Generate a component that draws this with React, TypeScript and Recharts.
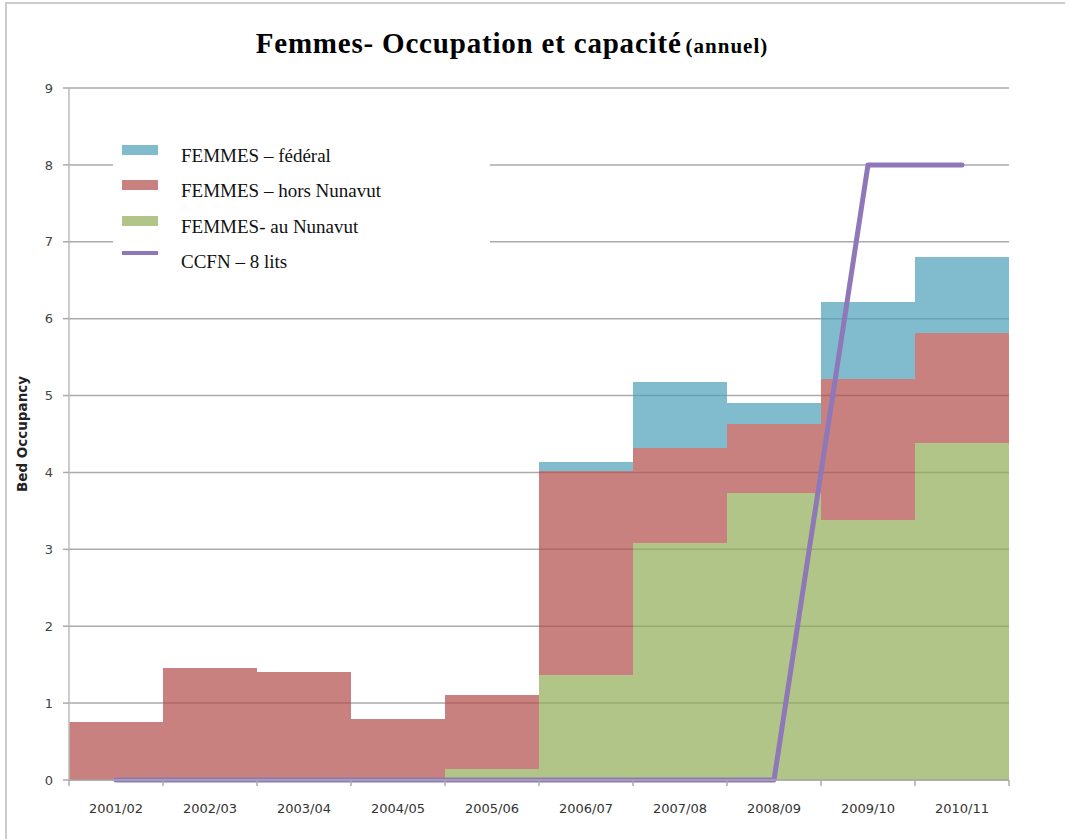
import {
  ComposedChart,
  Bar,
  Line,
  XAxis,
  YAxis,
  CartesianGrid,
  Legend,
} from "recharts";

const years = [
  "2001/02", "2002/03", "2003/04", "2004/05", "2005/06",
  "2006/07", "2007/08", "2008/09", "2009/10", "2010/11",
];
const auNunavut = [0, 0, 0, 0, 0.14, 1.37, 3.08, 3.73, 3.38, 4.38];
const horsNunavut = [0.75, 1.46, 1.4, 0.79, 0.97, 2.65, 1.24, 0.9, 1.83, 1.43];
const federal = [0, 0, 0, 0, 0, 0.12, 0.85, 0.27, 1.01, 0.99];
const ccfn = [0, 0, 0, 0, 0, 0, 0, 0, 8, 8];
const yTicks = [0, 1, 2, 3, 4, 5, 6, 7, 8, 9];

const W = 1070;
const H = 839;
const margin = { top: 88, right: 61, left: 1, bottom: 19 };
const Y_AXIS_W = 68;
const BAND = (W - margin.left - margin.right - Y_AXIS_W) / years.length;
const TICK_MARGIN = 18;

const BLUE = "#4A9FB8";
const RED = "#B24C4A";
const GREEN = "#92AC56";
const PURPLE = "#8E78B8";
const OPACITY = 0.7;

const data = years.map((y, i) => ({
  name: y,
  nunavut: auNunavut[i],
  hors: horsNunavut[i],
  federal: federal[i],
  ccfn: ccfn[i],
}));

const legendItems = [
  { label: "FEMMES – fédéral", color: BLUE, kind: "box" },
  { label: "FEMMES – hors Nunavut", color: RED, kind: "box" },
  { label: "FEMMES- au Nunavut", color: GREEN, kind: "box" },
  { label: "CCFN – 8 lits", color: PURPLE, kind: "line" },
];

const XTick = (props: any) => {
  const { x, y, payload, index } = props;
  const axisY = y - TICK_MARGIN - 6;
  return (
    <g>
      <line x1={x - BAND / 2} x2={x - BAND / 2} y1={axisY} y2={axisY + 6} stroke="#aaa" strokeWidth={1.5} />
      {index === years.length - 1 && (
        <line x1={x + BAND / 2} x2={x + BAND / 2} y1={axisY} y2={axisY + 6} stroke="#aaa" strokeWidth={1.5} />
      )}
      <text x={x} y={y} dy="0.71em" textAnchor="middle" fill="#333" fontSize={13} fontFamily="DejaVu Sans">
        {payload.value}
      </text>
    </g>
  );
};

const LegendBox = () => (
  <div>
    {legendItems.map((it) => (
      <div key={it.label} style={{ display: "flex", alignItems: "center", height: 35.5 }}>
        <div
          style={{
            marginLeft: 9,
            width: 36,
            height: it.kind === "box" ? 10 : 4,
            background: it.color,
            opacity: it.kind === "box" ? OPACITY : 1,
            position: "relative",
            top: it.kind === "box" ? -6 : -9,
          }}
        />
        <span style={{ marginLeft: 23, fontFamily: "Liberation Serif", fontSize: 19, color: "#111" }}>
          {it.label}
        </span>
      </div>
    ))}
  </div>
);

export default function App() {
  return (
    <div style={{ position: "absolute", left: 0, top: 0, width: W, height: H, background: "#fff" }}>
      <div
        style={{
          position: "absolute",
          left: 5,
          top: 2,
          width: 1058,
          height: H,
          borderTop: "2px solid #ccc",
          borderLeft: "2px solid #ccc",
        }}
      />
      <div
        style={{
          position: "absolute",
          left: 0,
          top: 27,
          width: 1024,
          textAlign: "center",
          fontFamily: "Liberation Serif",
          fontWeight: "bold",
          color: "#000",
          whiteSpace: "nowrap",
        }}
      >
        <span style={{ fontSize: 29, letterSpacing: 0.8 }}>Femmes- Occupation et capacité</span>{" "}
        <span style={{ fontSize: 21, letterSpacing: 1 }}>(annuel)</span>
      </div>
      <ComposedChart
        width={W}
        height={H}
        data={data}
        margin={margin}
        barCategoryGap={0}
        style={{ position: "absolute", left: 0, top: 0 }}
      >
        <CartesianGrid horizontal vertical={false} stroke="#aaa" strokeWidth={1.5} />
        <XAxis
          dataKey="name"
          height={40}
          interval={0}
          axisLine={{ stroke: "#aaa", strokeWidth: 1.5 }}
          tickLine={false}
          tickMargin={TICK_MARGIN}
          tick={<XTick />}
        />
        <YAxis
          width={Y_AXIS_W}
          domain={[0, 9]}
          ticks={yTicks}
          interval={0}
          axisLine={{ stroke: "#bbb", strokeWidth: 1.5 }}
          tickLine={{ stroke: "#aaa", strokeWidth: 1.5 }}
          tickSize={6}
          tickMargin={10}
          tick={{ fill: "#444", fontSize: 13, fontFamily: "DejaVu Sans" }}
          label={{
            value: "Bed Occupancy",
            angle: -90,
            position: "insideLeft",
            offset: 21,
            style: { textAnchor: "middle", fontFamily: "DejaVu Sans", fontWeight: "bold", fontSize: 13.5, fill: "#222" },
          }}
        />
        <Bar dataKey="nunavut" stackId="a" fill={GREEN} fillOpacity={OPACITY} shapeRendering="crispEdges" isAnimationActive={false} />
        <Bar dataKey="hors" stackId="a" fill={RED} fillOpacity={OPACITY} shapeRendering="crispEdges" isAnimationActive={false} />
        <Bar dataKey="federal" stackId="a" fill={BLUE} fillOpacity={OPACITY} shapeRendering="crispEdges" isAnimationActive={false} />
        <Line
          type="linear"
          dataKey="ccfn"
          stroke={PURPLE}
          strokeWidth={5}
          strokeLinecap="round"
          strokeLinejoin="round"
          dot={false}
          isAnimationActive={false}
        />
        <Legend
          layout="vertical"
          align="center"
          verticalAlign="middle"
          content={<LegendBox />}
          wrapperStyle={{ left: 113, top: 138, width: 377, height: 140, background: "#fff" }}
        />
      </ComposedChart>
    </div>
  );
}
